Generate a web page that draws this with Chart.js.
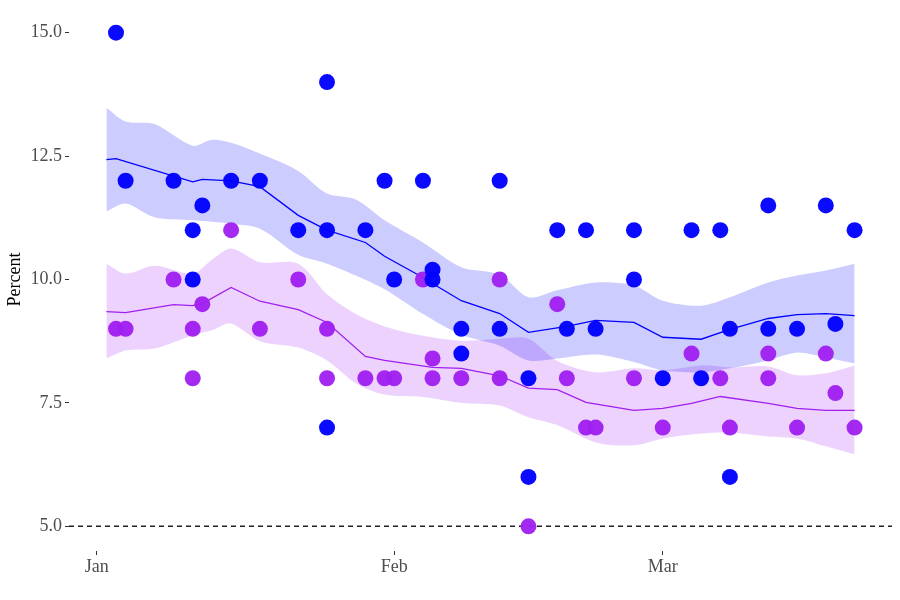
<!DOCTYPE html>
<html>
<head>
<meta charset="utf-8">
<script src="https://cdn.jsdelivr.net/npm/chart.js"></script>
<style>
  body { margin: 0; background: #fff; }
</style>
</head>
<body>
<canvas id="chart" width="900" height="600"></canvas>
<script>
// days counted from Jan 1 (day 0)
const monthTicks = [0, 31, 59];
const monthLabels = ['Jan', 'Feb', 'Mar'];
const yTicks = [5, 7.5, 10, 12.5, 15];

// poll results
const blueDays = [2, 3, 8, 10, 11, 10, 14, 17, 21, 24, 24, 24, 28, 30, 31, 34, 35, 35, 38, 38, 42, 42, 45, 45, 48, 49, 51, 52, 56, 56, 59, 62, 63, 65, 66, 66, 70, 70, 73, 76, 77, 79];
const blueValues = [15, 12, 12, 11, 11.5, 10, 12, 12, 11, 14, 11, 7, 11, 12, 10, 12, 10.2, 10, 9, 8.5, 12, 9, 8, 6, 11, 9, 11, 9, 11, 10, 8, 11, 8, 11, 9, 6, 11.5, 9, 9, 11.5, 9.1, 11];
const purpleDays = [2, 3, 8, 10, 10, 11, 14, 17, 21, 24, 24, 28, 30, 31, 34, 35, 35, 38, 42, 42, 45, 48, 49, 51, 52, 56, 59, 62, 65, 66, 70, 70, 73, 76, 77, 79];
const purpleValues = [9, 9, 10, 9, 8, 9.5, 11, 9, 10, 9, 8, 8, 8, 8, 10, 8.4, 8, 8, 10, 8, 5, 9.5, 8, 7, 7, 8, 7, 8.5, 8, 7, 8.5, 8, 7, 8.5, 7.7, 7];

// smoothed averages
const blueLineDays = [1, 2, 10, 11, 14, 17, 21, 24, 28, 30, 34, 35, 38, 42, 45, 49, 52, 56, 59, 63, 66, 70, 73, 76, 79];
const blueLineValues = [12.43, 12.45, 11.98, 12.03, 12.0, 11.88, 11.3, 11.0, 10.75, 10.47, 10.04, 9.92, 9.57, 9.31, 8.93, 9.05, 9.17, 9.13, 8.83, 8.79, 8.99, 9.21, 9.29, 9.31, 9.27];
const purpleLineDays = [1, 3, 8, 10, 11, 14, 17, 21, 24, 28, 30, 35, 38, 42, 45, 48, 51, 56, 59, 62, 65, 70, 73, 76, 79];
const purpleLineValues = [9.35, 9.33, 9.49, 9.47, 9.51, 9.84, 9.56, 9.39, 9.13, 8.44, 8.36, 8.22, 8.2, 8.05, 7.8, 7.77, 7.51, 7.35, 7.39, 7.49, 7.63, 7.49, 7.39, 7.35, 7.35];

// uncertainty bands
const ribbonDays = [1, 3, 6, 10, 12, 14, 17, 21, 24, 27, 30, 34, 38, 42, 45, 48, 52, 56, 59, 63, 66, 70, 73, 76, 79];
const blueUpper = [13.48, 13.2, 13.15, 12.71, 12.83, 12.77, 12.55, 12.2, 11.74, 11.62, 11.2, 10.75, 10.25, 10.1, 9.64, 9.78, 9.94, 9.88, 9.57, 9.47, 9.64, 9.94, 10.08, 10.18, 10.32];
const blueLower = [11.38, 11.54, 11.26, 11.2, 11.17, 11.13, 11.03, 10.5, 10.32, 10.08, 9.8, 9.3, 8.88, 8.66, 8.36, 8.4, 8.48, 8.33, 8.16, 8.12, 8.2, 8.36, 8.52, 8.42, 8.3];
const purpleUpper = [10.32, 10.12, 10.28, 10.12, 10.4, 10.63, 10.35, 10.32, 9.7, 9.3, 9.05, 8.86, 8.76, 8.8, 8.8, 8.35, 8.12, 8.2, 8.16, 8.26, 8.22, 8.24, 8.06, 8.1, 8.26];
const purpleLower = [8.4, 8.56, 8.6, 8.87, 8.97, 9.11, 8.75, 8.62, 8.36, 7.9, 7.67, 7.62, 7.5, 7.45, 7.21, 7.05, 6.7, 6.64, 6.78, 6.88, 6.9, 6.82, 6.78, 6.62, 6.46];

const refLine = 5;
const xMin = -2.9, xMax = 82.9;

const pts = (xs, ys) => xs.map((x, i) => ({ x: x, y: ys[i] }));

const band = (ys, color, fill) => ({
    type: 'line',
    data: pts(ribbonDays, ys),
    borderWidth: 0,
    pointRadius: 0,
    backgroundColor: color,
    fill: fill,
    tension: 0.3,
    order: 3
});

const serif = '"Liberation Serif", "DejaVu Serif", serif';

new Chart(document.getElementById('chart'), {
    type: 'scatter',
    data: {
        datasets: [
            {
                data: pts(blueDays, blueValues),
                backgroundColor: 'rgba(0, 0, 255, 0.96)',
                pointRadius: 8,
                pointBorderWidth: 0,
                order: 1
            },
            {
                data: pts(purpleDays, purpleValues),
                backgroundColor: 'rgba(160, 32, 240, 0.96)',
                pointRadius: 8,
                pointBorderWidth: 0,
                order: 1
            },
            {
                type: 'line',
                data: pts(blueLineDays, blueLineValues),
                borderColor: '#0000ff',
                borderWidth: 1.3,
                pointRadius: 0,
                fill: false,
                order: 2
            },
            {
                type: 'line',
                data: pts(purpleLineDays, purpleLineValues),
                borderColor: '#a020f0',
                borderWidth: 1.3,
                pointRadius: 0,
                fill: false,
                order: 2
            },
            {
                type: 'line',
                data: [{ x: xMin, y: refLine }, { x: xMax, y: refLine }],
                borderColor: '#222',
                borderWidth: 1.4,
                borderDash: [5, 4],
                pointRadius: 0,
                fill: false,
                order: 2
            },
            band(blueUpper, 'rgba(0, 0, 255, 0.2)', '+1'),
            band(blueLower, 'rgba(0, 0, 0, 0)', false),
            band(purpleUpper, 'rgba(160, 32, 240, 0.2)', '+1'),
            band(purpleLower, 'rgba(0, 0, 0, 0)', false)
        ]
    },
    options: {
        responsive: false,
        devicePixelRatio: 1,
        animation: false,
        layout: { padding: { top: 7, right: 7, left: 0, bottom: 0 } },
        plugins: {
            legend: { display: false },
            tooltip: { enabled: false }
        },
        scales: {
            x: {
                type: 'linear',
                min: xMin,
                max: xMax,
                border: { display: false },
                grid: { drawOnChartArea: false, drawTicks: true, tickLength: 4, color: '#333', lineWidth: 1 },
                afterBuildTicks: (scale) => {
                    scale.ticks = monthTicks.map(v => ({ value: v }));
                },
                afterFit: (scale) => {
                    scale.height = 49;
                    scale.paddingLeft = 0;
                    scale.paddingRight = 0;
                },
                ticks: {
                    padding: 1,
                    color: '#4d4d4d',
                    font: { family: serif, size: 18 },
                    callback: (v) => monthLabels[monthTicks.indexOf(v)]
                }
            },
            y: {
                min: 4.5,
                max: 15.5,
                border: { display: false },
                grid: { drawOnChartArea: false, drawTicks: true, tickLength: 4, color: '#333', lineWidth: 1 },
                afterBuildTicks: (scale) => {
                    scale.ticks = yTicks.map(v => ({ value: v }));
                },
                afterFit: (scale) => {
                    scale.width = 69;
                    scale.paddingTop = 0;
                    scale.paddingBottom = 0;
                },
                title: {
                    display: true,
                    text: 'Percent',
                    color: '#000',
                    font: { family: serif, size: 18 },
                    padding: { top: 4, bottom: 0 }
                },
                ticks: {
                    padding: 3,
                    color: '#4d4d4d',
                    font: { family: serif, size: 18 },
                    callback: (v) => v.toFixed(1)
                }
            }
        }
    }
});
</script>
</body>
</html>
